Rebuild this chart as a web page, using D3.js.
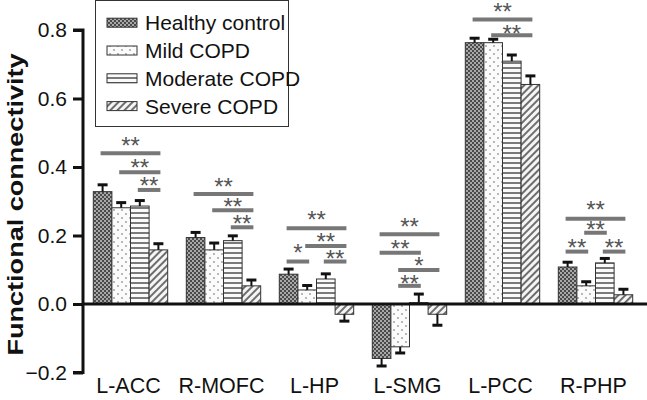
<!DOCTYPE html>
<html><head><meta charset="utf-8">
<script src="https://cdn.jsdelivr.net/npm/d3@7"></script>
<style>
body{margin:0;background:#fff;}
svg{display:block;font-family:"Liberation Sans",Arial,sans-serif;}
</style></head>
<body><svg id="c" width="647" height="400"></svg>
<script>
const categories = ["L-ACC","R-MOFC","L-HP","L-SMG","L-PCC","R-PHP"];
const seriesNames = ["Healthy control","Mild COPD","Moderate COPD","Severe COPD"];
const healthy  = [0.328, 0.194, 0.087, -0.159, 0.763, 0.108];
const mild     = [0.281, 0.158, 0.041, -0.125, 0.763, 0.053];
const moderate = [0.286, 0.185, 0.073,  0.004, 0.709, 0.120];
const severe   = [0.158, 0.053, -0.030, -0.030, 0.641, 0.027];
const healthyErr  = [0.020, 0.015, 0.015, 0.022, 0.013, 0.014];
const mildErr     = [0.015, 0.020, 0.013, 0.018, 0.010, 0.012];
const moderateErr = [0.016, 0.014, 0.015, 0.025, 0.018, 0.013];
const severeErr   = [0.018, 0.017, 0.020, 0.032, 0.025, 0.016];
const yTicks = [-0.2, 0, 0.2, 0.4, 0.6, 0.8];
// significance annotations: category, fromSeries, toSeries, lineLevel, labelLevel, label
const sigCat   = ["L-ACC","L-ACC","L-ACC","R-MOFC","R-MOFC","R-MOFC","L-HP","L-HP","L-HP","L-HP","L-SMG","L-SMG","L-SMG","L-SMG","L-PCC","L-PCC","R-PHP","R-PHP","R-PHP","R-PHP"];
const sigFrom  = [0,1,2, 0,1,2, 0,1,0,2, 0,0,1,1, 0,1, 0,1,0,2];
const sigTo    = [3,3,3, 3,3,3, 3,3,1,3, 3,2,3,2, 3,3, 3,2,1,3];
const sigLevel = [0.440,0.385,0.333, 0.321,0.274,0.224, 0.221,0.169,0.124,0.124, 0.204,0.150,0.099,0.053, 0.831,0.785, 0.249,0.208,0.153,0.153];
const sigLabelLevel = [0.441,0.377,0.323, 0.321,0.262,0.212, 0.224,0.161,0.128,0.110, 0.204,0.139,0.090,0.039, 0.832,0.769, 0.253,0.195,0.143,0.143];
const sigLabel = ["**","**","**", "**","**","**", "**","**","*","**", "**","**","*","**", "**","**", "**","**","**","**"];

const svg = d3.select("#c");
const defs = svg.append("defs");
// patterns
const p1 = defs.append("pattern").attr("id","pH").attr("patternUnits","userSpaceOnUse").attr("width",4).attr("height",4);
p1.append("rect").attr("width",4).attr("height",4).attr("fill","#4a4a4a");
p1.append("rect").attr("x",0).attr("y",0).attr("width",2).attr("height",2).attr("fill","#a8a8a8");
p1.append("rect").attr("x",2).attr("y",2).attr("width",2).attr("height",2).attr("fill","#a8a8a8");
const p2 = defs.append("pattern").attr("id","pM").attr("patternUnits","userSpaceOnUse").attr("width",8).attr("height",8);
p2.append("rect").attr("width",8).attr("height",8).attr("fill","#fbfbfb");
p2.append("rect").attr("x",1).attr("y",1).attr("width",2).attr("height",2).attr("fill","#b8b8b8");
p2.append("rect").attr("x",5).attr("y",5).attr("width",2).attr("height",2).attr("fill","#b8b8b8");
const p3 = defs.append("pattern").attr("id","pMo").attr("patternUnits","userSpaceOnUse").attr("width",6).attr("height",5);
p3.append("rect").attr("width",6).attr("height",5).attr("fill","#fafafa");
p3.append("rect").attr("x",0).attr("y",2).attr("width",6).attr("height",2).attr("fill","#7a7a7a");
const p4 = defs.append("pattern").attr("id","pS").attr("patternUnits","userSpaceOnUse").attr("width",5).attr("height",5).attr("patternTransform","rotate(45)");
p4.append("rect").attr("width",5).attr("height",5).attr("fill","#f5f5f5");
p4.append("rect").attr("x",0).attr("y",0).attr("width",2).attr("height",5).attr("fill","#6e6e6e");
const fills = ["url(#pH)","url(#pM)","url(#pMo)","url(#pS)"];

const values = [healthy, mild, moderate, severe];
const errs = [healthyErr, mildErr, moderateErr, severeErr];

const y = d3.scaleLinear().domain([-0.2, 0.8]).range([372.5, 30]);
const x0 = d3.scaleBand().domain(categories).range([84, 642]).paddingInner(0.2).paddingOuter(0.1);
const x1 = d3.scaleBand().domain(d3.range(seriesNames.length)).range([0, x0.bandwidth()]);

// bars
const rows = [];
categories.forEach((c, i) => values.forEach((s, j) => rows.push({c, j, v: s[i], e: errs[j][i]})));
const g = svg.append("g");
g.selectAll("rect.bar").data(rows).join("rect").attr("class","bar")
  .attr("x", d => x0(d.c) + x1(d.j))
  .attr("width", x1.bandwidth())
  .attr("y", d => y(Math.max(0, d.v)))
  .attr("height", d => Math.abs(y(d.v) - y(0)))
  .attr("fill", d => fills[d.j])
  .attr("stroke", "#333").attr("stroke-width", 1);

// error bars
const eb = g.selectAll("g.eb").data(rows).join("g").attr("class","eb");
eb.append("line")
  .attr("x1", d => x0(d.c) + x1(d.j) + x1.bandwidth()/2)
  .attr("x2", d => x0(d.c) + x1(d.j) + x1.bandwidth()/2)
  .attr("y1", d => y(d.v))
  .attr("y2", d => y(d.v >= 0 ? d.v + d.e : d.v - d.e))
  .attr("stroke", "#111").attr("stroke-width", 2);
eb.append("line")
  .attr("x1", d => x0(d.c) + x1(d.j) + x1.bandwidth()/2 - 5)
  .attr("x2", d => x0(d.c) + x1(d.j) + x1.bandwidth()/2 + 5)
  .attr("y1", d => y(d.v >= 0 ? d.v + d.e : d.v - d.e))
  .attr("y2", d => y(d.v >= 0 ? d.v + d.e : d.v - d.e))
  .attr("stroke", "#111").attr("stroke-width", 3);

// zero line
svg.append("line").attr("x1", 83).attr("x2", 647).attr("y1", y(0)).attr("y2", y(0))
  .attr("stroke", "#111").attr("stroke-width", 3);

// y axis
const yAxis = svg.append("g").attr("transform","translate(83,0)")
  .call(d3.axisLeft(y).tickValues(yTicks).tickFormat(d3.format(".1f")).tickSize(10).tickPadding(6));
yAxis.select(".domain").attr("stroke","#111").attr("stroke-width",3).attr("d", `M-10,${y(0.8)}H0V${y(-0.2)}H-10`);
yAxis.selectAll(".tick line").attr("stroke","#111").attr("stroke-width",3);
yAxis.selectAll(".tick text").attr("font-size",21).attr("fill","#111").attr("font-family","Liberation Sans, Arial, sans-serif");

// y title
svg.append("text").attr("transform", `translate(23,${(53+356)/2}) rotate(-90)`)
  .attr("text-anchor","middle").attr("font-size",22).attr("font-weight","bold").attr("fill","#111")
  .attr("textLength",302).attr("lengthAdjust","spacingAndGlyphs")
  .text("Functional connectivity");

// category labels
svg.selectAll("text.cat").data(categories).join("text").attr("class","cat")
  .attr("x", d => x0(d) + x0.bandwidth()/2 - 2)
  .attr("y", 393)
  .attr("text-anchor","middle").attr("font-size",21.5).attr("fill","#111")
  .text(d => d);

// significance
const sig = sigCat.map((c, k) => ({c, a: sigFrom[k], b: sigTo[k], lv: sigLevel[k], ll: sigLabelLevel[k], t: sigLabel[k]}));
const cx = (c, j) => x0(c) + x1(j) + x1.bandwidth()/2;
svg.selectAll("line.sig").data(sig).join("line").attr("class","sig")
  .attr("x1", d => cx(d.c, d.a) - 2).attr("x2", d => cx(d.c, d.b) + 2)
  .attr("y1", d => y(d.lv)).attr("y2", d => y(d.lv))
  .attr("stroke","#777").attr("stroke-width",4);
svg.selectAll("text.sig").data(sig).join("text").attr("class","sig")
  .attr("x", d => (cx(d.c, d.a) + cx(d.c, d.b))/2)
  .attr("y", d => y(d.ll) + 1)
  .attr("text-anchor","middle").attr("font-size",24).attr("fill","#555")
  .text(d => d.t);

// legend
const lg = svg.append("g");
lg.append("rect").attr("x",95.5).attr("y",0.5).attr("width",193).attr("height",126)
  .attr("fill","#fff").attr("stroke","#333").attr("stroke-width",1);
seriesNames.forEach((n, j) => {
  const cy = 22.7 + j * 27.8;
  lg.append("rect").attr("x",107).attr("y",cy-4.5).attr("width",30).attr("height",9)
    .attr("fill",fills[j]).attr("stroke","#333").attr("stroke-width",1);
  lg.append("text").attr("x",145).attr("y",cy+7.4).attr("font-size",21).attr("fill","#111").text(n);
});
</script></body></html>
